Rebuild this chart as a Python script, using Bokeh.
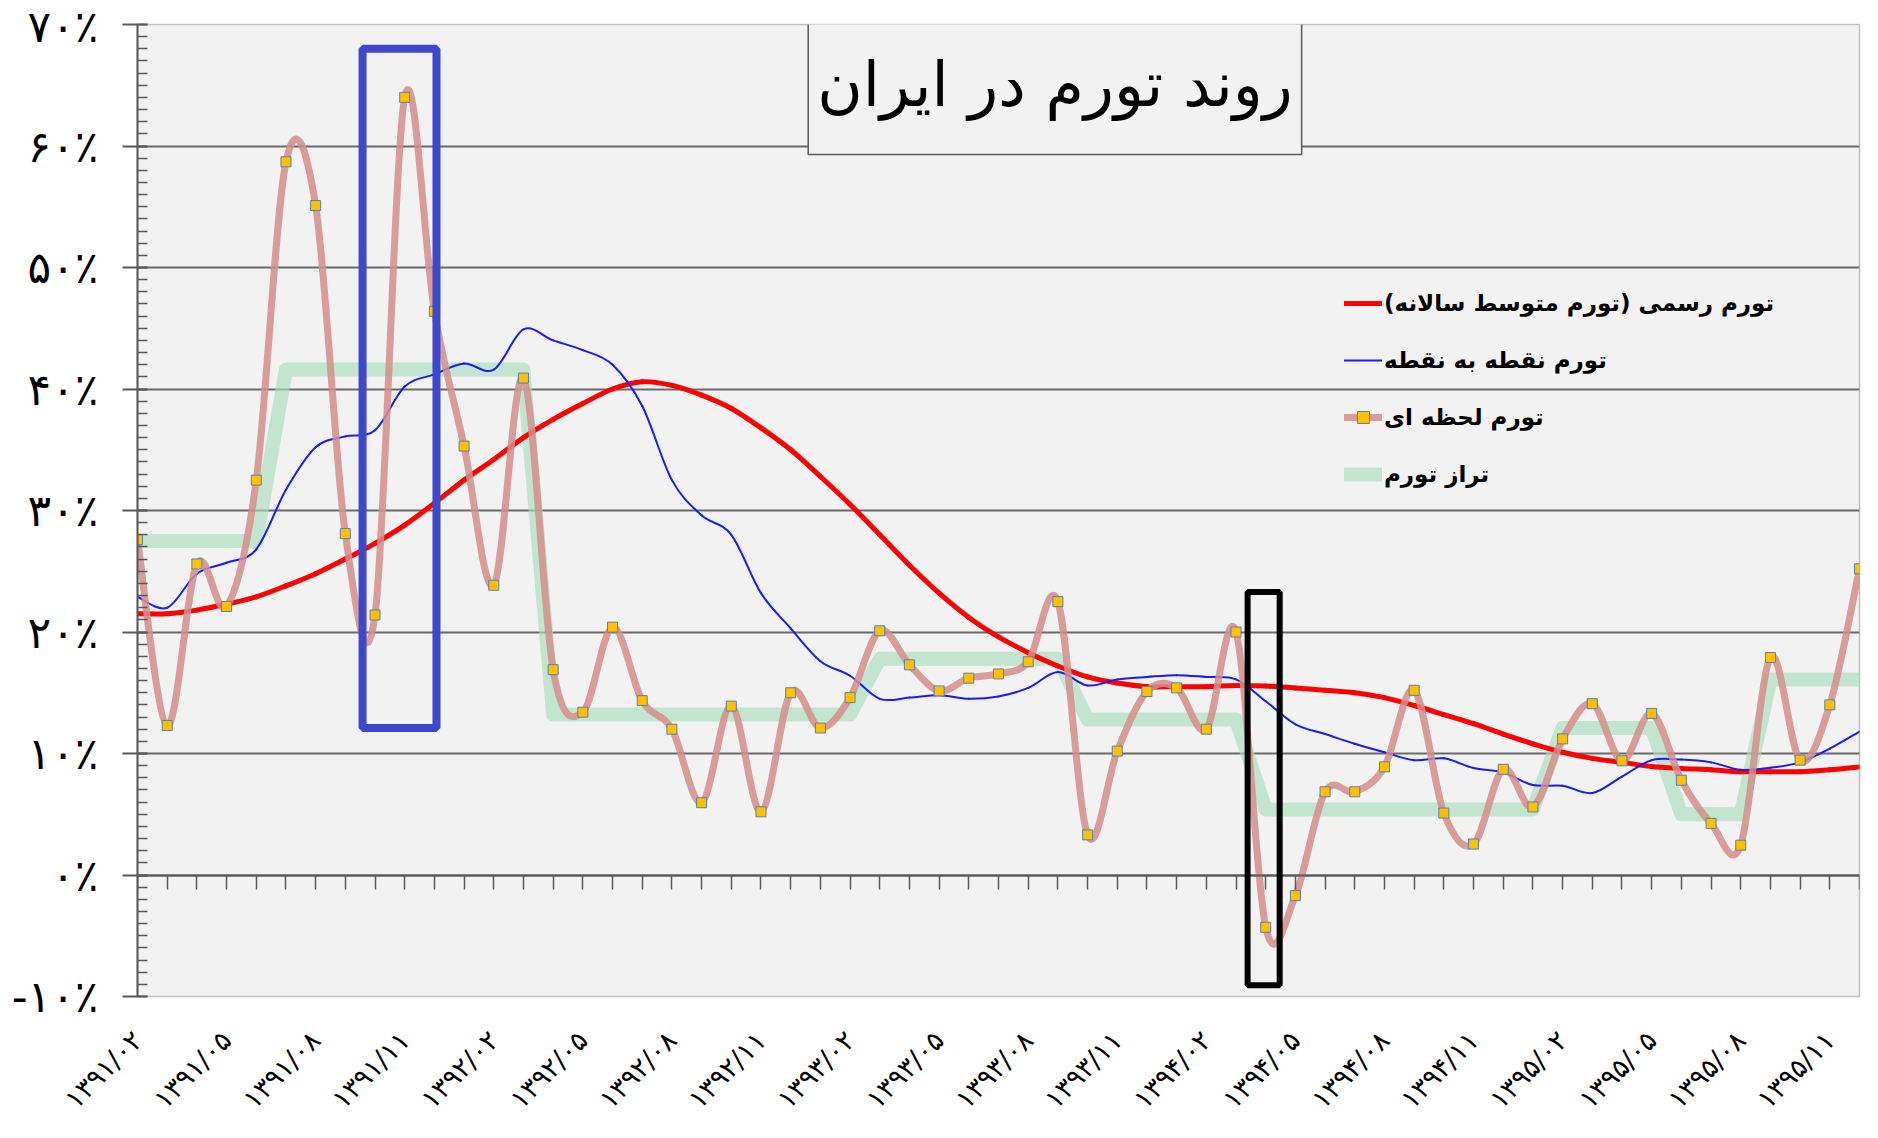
import math
from bokeh.plotting import figure
from bokeh.models import (FixedTicker, SingleIntervalTicker, LinearAxis, Legend, LegendItem,
                          BoxAnnotation, Label, Range1d, ColumnDataSource)
from bokeh.embed import file_html
from bokeh.resources import INLINE

# ---------------- data ----------------
MONTHS = [
    "۱۳۹۱/۰۲", "۱۳۹۱/۰۳", "۱۳۹۱/۰۴", "۱۳۹۱/۰۵", "۱۳۹۱/۰۶", "۱۳۹۱/۰۷", "۱۳۹۱/۰۸", "۱۳۹۱/۰۹", "۱۳۹۱/۱۰", "۱۳۹۱/۱۱", "۱۳۹۱/۱۲",
    "۱۳۹۲/۰۱", "۱۳۹۲/۰۲", "۱۳۹۲/۰۳", "۱۳۹۲/۰۴", "۱۳۹۲/۰۵", "۱۳۹۲/۰۶", "۱۳۹۲/۰۷", "۱۳۹۲/۰۸", "۱۳۹۲/۰۹", "۱۳۹۲/۱۰", "۱۳۹۲/۱۱", "۱۳۹۲/۱۲",
    "۱۳۹۳/۰۱", "۱۳۹۳/۰۲", "۱۳۹۳/۰۳", "۱۳۹۳/۰۴", "۱۳۹۳/۰۵", "۱۳۹۳/۰۶", "۱۳۹۳/۰۷", "۱۳۹۳/۰۸", "۱۳۹۳/۰۹", "۱۳۹۳/۱۰", "۱۳۹۳/۱۱", "۱۳۹۳/۱۲",
    "۱۳۹۴/۰۱", "۱۳۹۴/۰۲", "۱۳۹۴/۰۳", "۱۳۹۴/۰۴", "۱۳۹۴/۰۵", "۱۳۹۴/۰۶", "۱۳۹۴/۰۷", "۱۳۹۴/۰۸", "۱۳۹۴/۰۹", "۱۳۹۴/۱۰", "۱۳۹۴/۱۱", "۱۳۹۴/۱۲",
    "۱۳۹۵/۰۱", "۱۳۹۵/۰۲", "۱۳۹۵/۰۳", "۱۳۹۵/۰۴", "۱۳۹۵/۰۵", "۱۳۹۵/۰۶", "۱۳۹۵/۰۷", "۱۳۹۵/۰۸", "۱۳۹۵/۰۹", "۱۳۹۵/۱۰", "۱۳۹۵/۱۱", "۱۳۹۵/۱۲",
]

# official inflation (annual average), %
OFFICIAL = [21.5, 21.5, 21.8, 22.3, 22.9, 23.8, 24.8, 26.0, 27.3, 28.8,
            30.6, 32.5, 34.2, 36.0, 37.5, 38.8, 40.0, 40.6, 40.3, 39.5,
            38.4, 36.8, 35.0, 32.8, 30.5, 28.0, 25.5, 23.2, 21.2, 19.6,
            18.3, 17.2, 16.3, 15.8, 15.5, 15.5, 15.5, 15.6, 15.55, 15.4,
            15.2, 15.0, 14.6, 13.95, 13.2, 12.45, 11.6, 10.8, 10.1, 9.6,
            9.27, 8.93, 8.77, 8.66, 8.5, 8.5, 8.5, 8.66, 8.9]

# point-to-point inflation, %
POINT_TO_POINT = [22.9, 22.0, 24.8, 25.7, 26.8, 31.7, 35.2, 36.1, 36.6, 40.2,
                  41.2, 42.1, 41.6, 44.9, 44.0, 43.2, 42.0, 38.6, 32.5, 29.6,
                  28.0, 23.2, 20.3, 17.6, 16.4, 14.5, 14.6, 14.8, 14.5, 14.7,
                  15.4, 16.7, 15.6, 16.1, 16.3, 16.45, 16.3, 16.1, 14.3, 12.4,
                  11.6, 10.8, 10.1, 9.45, 9.6, 8.8, 8.43, 7.4, 7.35, 6.75,
                  8.1, 9.45, 9.5, 9.27, 8.66, 8.83, 9.27, 10.4, 11.8]

# instantaneous (monthly, annualised) inflation, %
MONTHLY = [27.6, 12.3, 25.6, 22.1, 32.5, 58.7, 55.1, 28.1, 21.4, 64.0,
           46.4, 35.3, 23.85, 40.9, 16.9, 13.4, 20.4, 14.35, 12.0, 5.95,
           13.9, 5.2, 15.0, 12.1, 14.6, 20.1, 17.3, 15.15, 16.2, 16.55,
           17.55, 22.5, 3.3, 10.2, 15.1, 15.4, 12.0, 20.0, -4.3, -1.7,
           6.85, 6.85, 8.9, 15.2, 5.1, 2.55, 8.7, 5.6, 11.2, 14.1,
           9.4, 13.3, 7.8, 4.25, 2.45, 17.9, 9.45, 14.0, 25.2]

# inflation level, %
LEVEL = [27.5, 27.5, 27.5, 27.5, 27.5,
         41.6, 41.6, 41.6, 41.6, 41.6, 41.6, 41.6, 41.6, 41.6,
         13.2, 13.2, 13.2, 13.2, 13.2, 13.2, 13.2, 13.2, 13.2, 13.2, 13.2,
         17.8, 17.8, 17.8, 17.8, 17.8, 17.8, 17.8,
         12.8, 12.8, 12.8, 12.8, 12.8, 12.8,
         5.4, 5.4, 5.4, 5.4, 5.4, 5.4, 5.4, 5.4, 5.4, 5.4,
         12.1, 12.1, 12.1, 12.1,
         5.0, 5.0, 5.0,
         16.1, 16.1, 16.1, 16.1]

SERIES_NAMES = ["تورم رسمی (تورم متوسط سالانه)\u200f", "تورم نقطه به نقطه", "تورم لحظه ای", "تراز تورم"]
TITLE = "روند تورم در ایران"
Y_TICKS = [-10, 0, 10, 20, 30, 40, 50, 60, 70]
Y_TICK_LABELS = ["-۱۰٪", "۰٪", "۱۰٪", "۲۰٪", "۳۰٪", "۴۰٪", "۵۰٪", "۶۰٪", "۷۰٪"]

FONT = "DejaVu Sans"

# ---------------- helpers ----------------
def smooth_source(ys):
    """Bezier segments through the data points (Catmull-Rom style smoothing)."""
    xs = list(range(len(ys)))
    n = len(xs)
    d = dict(x0=[], y0=[], x1=[], y1=[], cx0=[], cy0=[], cx1=[], cy1=[])
    for i in range(n - 1):
        xm, ym = (xs[i - 1], ys[i - 1]) if i > 0 else (xs[i], ys[i])
        xp, yp = (xs[i + 2], ys[i + 2]) if i + 2 < n else (xs[i + 1], ys[i + 1])
        d["x0"].append(xs[i]); d["y0"].append(ys[i])
        d["x1"].append(xs[i + 1]); d["y1"].append(ys[i + 1])
        d["cx0"].append(xs[i] + (xs[i + 1] - xm) / 6.0)
        d["cy0"].append(ys[i] + (ys[i + 1] - ym) / 6.0)
        d["cx1"].append(xs[i + 1] - (xp - xs[i]) / 6.0)
        d["cy1"].append(ys[i + 1] - (yp - ys[i]) / 6.0)
    return ColumnDataSource(d)

x_idx = list(range(len(MONTHS)))

# ---------------- figure ----------------
p = figure(frame_width=1722, frame_height=972,
           x_range=Range1d(0, len(MONTHS) - 1), y_range=Range1d(Y_TICKS[0], Y_TICKS[-1]),
           output_backend="svg", toolbar_location=None,
           min_border_left=137, min_border_top=24, min_border_right=3, min_border_bottom=10,
           background_fill_color="#f2f2f2", border_fill_color="white",
           outline_line_color="#bfbfbf", outline_line_width=1.5)

# grid
p.xgrid.visible = False
p.ygrid.ticker = FixedTicker(ticks=Y_TICKS[1:-1])
p.ygrid.grid_line_color = "#6a6a6a"
p.ygrid.grid_line_width = 2

# y axis
ya = p.yaxis[0]
ya.ticker = SingleIntervalTicker(interval=10, num_minor_ticks=10)
ya.major_label_overrides = dict(zip(Y_TICKS, Y_TICK_LABELS))
ya.major_tick_out = 15
ya.major_tick_in = 10
ya.minor_tick_in = 10
ya.minor_tick_out = 0
ya.axis_line_color = "#595959"
ya.axis_line_width = 2
ya.major_tick_line_color = "#595959"
ya.major_tick_line_width = 2
ya.minor_tick_line_color = "#595959"
ya.minor_tick_line_width = 1.5
ya.major_label_standoff = 24
ya.major_label_text_font = FONT
ya.major_label_text_font_size = "44px"
ya.major_label_text_color = "black"

# x axis with tick marks, placed on the zero line
xa = p.xaxis[0]
xa.fixed_location = 0
xa.ticker = FixedTicker(ticks=x_idx)
xa.major_label_overrides = {i: "" for i in x_idx}
xa.major_label_text_font_size = "1px"
xa.major_label_standoff = 0
xa.major_tick_in = 0
xa.major_tick_out = 14
xa.minor_tick_line_color = None
xa.axis_line_color = "#595959"
xa.axis_line_width = 2
xa.major_tick_line_color = "#595959"
xa.major_tick_line_width = 1.5

# x axis with the date labels at the bottom
label_ticks = x_idx[0::3]
xb = LinearAxis(ticker=FixedTicker(ticks=label_ticks),
                major_label_overrides={i: MONTHS[i] for i in label_ticks},
                major_label_orientation=math.pi / 4,
                axis_line_color=None, major_tick_line_color=None, minor_tick_line_color=None,
                major_tick_in=0, major_tick_out=0, major_label_standoff=39,
                major_label_text_font=FONT, major_label_text_font_size="27px",
                major_label_text_font_style="normal", major_label_text_color="black")
p.add_layout(xb, "below")

# ---------------- series ----------------
r_level = p.line(x_idx, LEVEL, line_color="#a9dcbc", line_alpha=0.65, line_width=14,
                 line_join="round", line_cap="round")
r_off = p.bezier("x0", "y0", "x1", "y1", "cx0", "cy0", "cx1", "cy1",
                 source=smooth_source(OFFICIAL), line_color="#ff0000", line_width=5, line_cap="round")
r_p2p = p.bezier("x0", "y0", "x1", "y1", "cx0", "cy0", "cx1", "cy1",
                 source=smooth_source(POINT_TO_POINT), line_color="#1a1aff", line_width=2, line_cap="round")
r_mon = p.bezier("x0", "y0", "x1", "y1", "cx0", "cy0", "cx1", "cy1",
                 source=smooth_source(MONTHLY), line_color="#d48e8c", line_alpha=0.85, line_width=7,
                 line_cap="round")
r_mk = p.scatter(x_idx, MONTHLY, marker="square", size=10, fill_color="#ffc000",
                 line_color="#5a7fb0", line_width=1)

# ---------------- highlight boxes ----------------
HIGHLIGHTS = [
    dict(left=7.58, right=10.07, bottom=12.1, top=68.0, color="#3f48cc", width=8),
    dict(left=37.39, right=38.47, bottom=-9.07, top=23.3, color="black", width=6),
]
for h in HIGHLIGHTS:
    p.add_layout(BoxAnnotation(left=h["left"], right=h["right"], bottom=h["bottom"], top=h["top"],
                               fill_color=None, fill_alpha=0, line_color=h["color"],
                               line_alpha=1.0, line_width=h["width"]))

# ---------------- title ----------------
p.add_layout(Label(x=30.9, y=65.1, text=TITLE, text_font=FONT, text_font_size="62px",
                   text_align="center", text_baseline="middle", text_color="black",
                   background_fill_color="#f2f2f2", border_line_color="#595959", border_line_width=1.5,
                   padding=dict(left=9, right=9, top=34, bottom=34)))

# ---------------- legend ----------------
legend = Legend(items=[LegendItem(label=SERIES_NAMES[0], renderers=[r_off]),
                       LegendItem(label=SERIES_NAMES[1], renderers=[r_p2p]),
                       LegendItem(label=SERIES_NAMES[2], renderers=[r_mon, r_mk]),
                       LegendItem(label=SERIES_NAMES[3], renderers=[r_level])],
                location=(1207, 507), glyph_width=38, glyph_height=30, label_height=30,
                spacing=27, padding=0, margin=0, label_standoff=2,
                border_line_color=None, background_fill_alpha=0,
                label_text_font=FONT, label_text_font_style="bold", label_text_font_size="23px",
                label_text_color="black")
p.add_layout(legend)

open("out.html", "w").write(file_html(p, INLINE))
